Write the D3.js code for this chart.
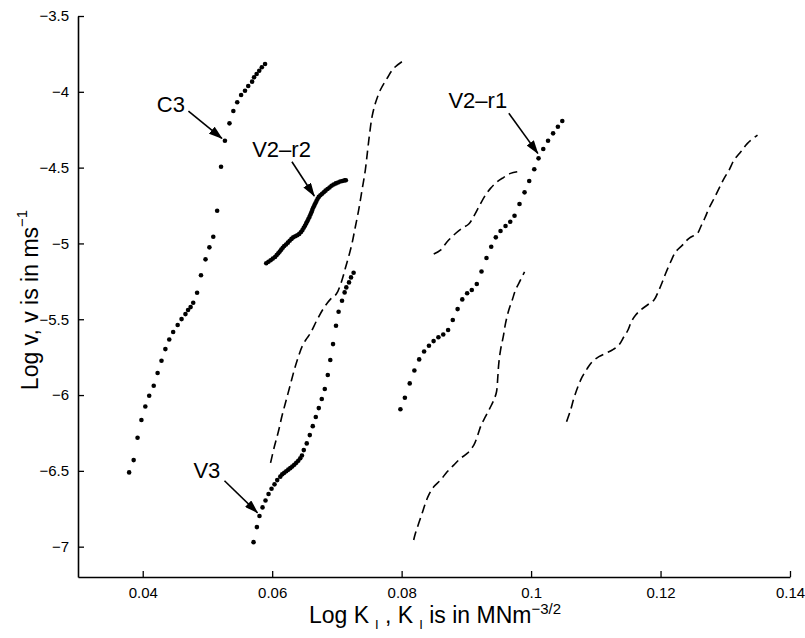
<!DOCTYPE html>
<html>
<head>
<meta charset="utf-8">
<script src="https://cdn.jsdelivr.net/npm/d3@7"></script>
<style>
  html, body { margin: 0; padding: 0; background: #fff; }
  svg text { font-family: "Liberation Sans", Arial, Helvetica, sans-serif; fill: #000; }
</style>
</head>
<body>
<svg id="chart" width="805" height="638"></svg>
<script>
// ---------------- DATA ----------------
const xTicks = [0.04, 0.06, 0.08, 0.10, 0.12, 0.14];
const xTickLabels = ["0.04", "0.06", "0.08", "0.1", "0.12", "0.14"];
const yTicks = [-7, -6.5, -6, -5.5, -5, -4.5, -4, -3.5];
const yTickLabels = ["\u22127", "\u22126.5", "\u22126", "\u22125.5", "\u22125", "\u22124.5", "\u22124", "\u22123.5"];

// dotted series (measured points)
const seriesC3 = [[0.0379,-6.510],[0.0386,-6.429],[0.0392,-6.282],[0.0398,-6.165],[0.0404,-6.075],[0.0410,-6.005],[0.0417,-5.939],[0.0423,-5.855],[0.0429,-5.774],[0.0435,-5.697],[0.0441,-5.634],[0.0447,-5.584],[0.0454,-5.538],[0.0460,-5.499],[0.0466,-5.466],[0.0470,-5.439],[0.0474,-5.420],[0.0478,-5.391],[0.0484,-5.325],[0.0490,-5.210],[0.0497,-5.105],[0.0503,-5.026],[0.0509,-4.956],[0.0515,-4.784],[0.0521,-4.494],[0.0527,-4.323],[0.0534,-4.208],[0.0540,-4.127],[0.0546,-4.069],[0.0552,-4.021],[0.0558,-3.993],[0.0563,-3.962],[0.0569,-3.933],[0.0572,-3.904],[0.0576,-3.883],[0.0580,-3.861],[0.0584,-3.838],[0.0589,-3.817]];

const seriesV3 = [[0.05712,-6.970],[0.05764,-6.871],[0.05804,-6.798],[0.05851,-6.741],[0.05897,-6.695],[0.05944,-6.653],[0.0599,-6.618],[0.06036,-6.589],[0.06078,-6.561],[0.06125,-6.538],[0.06155,-6.523],[0.06186,-6.513],[0.06217,-6.503],[0.06248,-6.492],[0.06279,-6.482],[0.0631,-6.471],[0.06341,-6.460],[0.06372,-6.447],[0.06403,-6.433],[0.06434,-6.417],[0.0646,-6.399],[0.06488,-6.363],[0.06534,-6.319],[0.06581,-6.264],[0.06627,-6.205],[0.06674,-6.145],[0.0672,-6.086],[0.06766,-6.026],[0.06813,-5.960],[0.06859,-5.868],[0.06898,-5.769],[0.0694,-5.664],[0.06986,-5.543],[0.07026,-5.451],[0.07079,-5.378],[0.07119,-5.323],[0.07145,-5.290],[0.07187,-5.257],[0.07218,-5.224],[0.07258,-5.193]];

const seriesV2r2 = [[0.05908,-5.131],[0.05942,-5.121],[0.05976,-5.111],[0.0601,-5.100],[0.06044,-5.089],[0.0607,-5.077],[0.06094,-5.065],[0.06117,-5.053],[0.0614,-5.041],[0.06163,-5.028],[0.06186,-5.017],[0.06214,-5.007],[0.06242,-4.995],[0.0627,-4.982],[0.06298,-4.970],[0.06326,-4.960],[0.06357,-4.953],[0.06387,-4.946],[0.06418,-4.937],[0.06446,-4.925],[0.06468,-4.912],[0.06488,-4.897],[0.06507,-4.883],[0.06525,-4.868],[0.06542,-4.854],[0.06559,-4.839],[0.06576,-4.825],[0.06592,-4.809],[0.06606,-4.794],[0.0662,-4.779],[0.06635,-4.763],[0.06651,-4.749],[0.06667,-4.735],[0.06684,-4.720],[0.06702,-4.706],[0.0672,-4.693],[0.06745,-4.682],[0.06771,-4.672],[0.06797,-4.662],[0.06824,-4.652],[0.06855,-4.641],[0.06886,-4.631],[0.06917,-4.620],[0.06949,-4.611],[0.06983,-4.604],[0.07017,-4.598],[0.07051,-4.592],[0.07085,-4.588],[0.07119,-4.584],[0.07138,-4.583]];

const seriesV2r1 = [[0.07981,-6.094],[0.0805,-6.018],[0.08125,-5.923],[0.08197,-5.838],[0.08271,-5.765],[0.08347,-5.713],[0.08422,-5.675],[0.08494,-5.644],[0.08568,-5.619],[0.08643,-5.601],[0.08718,-5.571],[0.0879,-5.505],[0.08865,-5.433],[0.08937,-5.369],[0.09012,-5.329],[0.09084,-5.307],[0.09161,-5.268],[0.09234,-5.185],[0.09311,-5.096],[0.09384,-5.022],[0.09455,-4.960],[0.09528,-4.918],[0.09605,-4.885],[0.09678,-4.857],[0.09744,-4.817],[0.09821,-4.740],[0.09899,-4.663],[0.09971,-4.588],[0.10049,-4.511],[0.10115,-4.439],[0.10188,-4.377],[0.10262,-4.323],[0.1034,-4.274],[0.10414,-4.230],[0.10482,-4.193]];

// dashed series
const dashA = [[0.05975,-6.447],[0.06032,-6.343],[0.06094,-6.244],[0.06155,-6.132],[0.06217,-6.033],[0.06279,-5.934],[0.06341,-5.835],[0.06403,-5.749],[0.06465,-5.677],[0.06527,-5.631],[0.06589,-5.593],[0.06692,-5.505],[0.06794,-5.428],[0.06898,-5.369],[0.06991,-5.334],[0.07053,-5.274],[0.07094,-5.220],[0.0713,-5.164],[0.07181,-5.088],[0.07234,-4.999],[0.07285,-4.890],[0.07336,-4.780],[0.07388,-4.648],[0.07439,-4.516],[0.07475,-4.384],[0.07506,-4.274],[0.07543,-4.164],[0.07594,-4.076],[0.07671,-3.988],[0.07775,-3.911],[0.07877,-3.845],[0.08058,-3.786]];

const dashB = [[0.08496,-5.070],[0.086,-5.044],[0.08703,-4.989],[0.08805,-4.945],[0.08935,-4.900],[0.09037,-4.872],[0.09125,-4.813],[0.09207,-4.747],[0.09295,-4.681],[0.09373,-4.637],[0.09476,-4.593],[0.09579,-4.564],[0.09682,-4.538],[0.09786,-4.527]];

const dashC = [[0.08186,-6.956],[0.08213,-6.912],[0.08264,-6.846],[0.08316,-6.780],[0.08367,-6.714],[0.08418,-6.660],[0.08496,-6.605],[0.086,-6.561],[0.08703,-6.506],[0.08805,-6.462],[0.08909,-6.418],[0.09012,-6.385],[0.09115,-6.330],[0.09176,-6.264],[0.09229,-6.198],[0.09295,-6.143],[0.09362,-6.088],[0.09424,-6.033],[0.09466,-5.978],[0.09486,-5.879],[0.09501,-5.791],[0.09528,-5.703],[0.0957,-5.615],[0.09605,-5.527],[0.09656,-5.439],[0.09709,-5.373],[0.0976,-5.307],[0.09837,-5.241],[0.09899,-5.187]];

const dashD = [[0.10548,-6.176],[0.1061,-6.099],[0.10661,-6.022],[0.10723,-5.945],[0.10791,-5.879],[0.10869,-5.824],[0.10946,-5.780],[0.11048,-5.747],[0.11152,-5.725],[0.11255,-5.703],[0.11357,-5.670],[0.11435,-5.615],[0.11497,-5.571],[0.11549,-5.516],[0.11616,-5.472],[0.11693,-5.439],[0.11797,-5.406],[0.11899,-5.373],[0.11976,-5.307],[0.12029,-5.253],[0.1208,-5.197],[0.12157,-5.121],[0.12235,-5.055],[0.12338,-5.011],[0.1244,-4.966],[0.1257,-4.933],[0.12621,-4.890],[0.12683,-4.834],[0.12749,-4.768],[0.12827,-4.703],[0.12904,-4.637],[0.12982,-4.571],[0.13059,-4.516],[0.13136,-4.450],[0.1324,-4.395],[0.13343,-4.340],[0.13498,-4.285]];

// annotations: label text, label anchor (x, y baseline), arrow start, arrow tip
const annLabels = ["C3", "V2\u2013r2", "V3", "V2\u2013r1"];
const annText = [[0.04217,-4.131],[0.05691,-4.428],[0.04783,-6.549],[0.08723,-4.107]];
const annFrom = [[0.04706,-4.127],[0.06305,-4.461],[0.05263,-6.565],[0.09656,-4.142]];
const annTo   = [[0.05223,-4.307],[0.0665,-4.687],[0.05773,-6.776],[0.10104,-4.406]];

// ---------------- CHART ----------------
const W = 805, H = 638;
const margin = {left: 78, right: 15, top: 16, bottom: 61};
const svg = d3.select("#chart");

const x = d3.scaleLinear().domain([0.03, 0.14]).range([margin.left, W - margin.right]);
const y = d3.scaleLinear().domain([-7.2, -3.5]).range([H - margin.bottom, margin.top]);

// axes
const xAxis = d3.axisBottom(x).tickValues(xTicks)
  .tickFormat((d, i) => xTickLabels[i]).tickSizeInner(-6).tickSizeOuter(0).tickPadding(10);
const yAxis = d3.axisLeft(y).tickValues(yTicks)
  .tickFormat((d, i) => yTickLabels[i]).tickSizeInner(-6).tickSizeOuter(0).tickPadding(9);

const gx = svg.append("g").attr("transform", `translate(0,${H - margin.bottom})`).call(xAxis);
const gy = svg.append("g").attr("transform", `translate(${margin.left},0)`).call(yAxis);
[gx, gy].forEach(g => {
  g.select(".domain").attr("stroke", "#000").attr("stroke-width", 1.6);
  g.selectAll(".tick line").attr("stroke", "#000").attr("stroke-width", 1.3);
  g.selectAll(".tick text").attr("font-size", 15).attr("font-family", "Liberation Sans, Arial, sans-serif").attr("fill", "#000");
});

// dashed curves
const line = d3.line().x(d => x(d[0])).y(d => y(d[1])).curve(d3.curveCatmullRom.alpha(0.5));
[dashA, dashB, dashC, dashD].forEach(s => {
  svg.append("path").datum(s).attr("d", line)
    .attr("fill", "none").attr("stroke", "#000").attr("stroke-width", 1.6)
    .attr("stroke-dasharray", "9,5");
});

// dotted series
[seriesC3, seriesV3, seriesV2r2, seriesV2r1].forEach(s => {
  svg.append("g").selectAll("circle").data(s).join("circle")
    .attr("cx", d => x(d[0])).attr("cy", d => y(d[1])).attr("r", 2.3).attr("fill", "#000");
});

// arrowhead marker
svg.append("defs").append("marker")
  .attr("id", "arr").attr("viewBox", "0 0 14 9").attr("refX", 13).attr("refY", 4.5)
  .attr("markerWidth", 14).attr("markerHeight", 9).attr("markerUnits", "userSpaceOnUse")
  .attr("orient", "auto")
  .append("path").attr("d", "M0,0 L14,4.5 L0,9 Z").attr("fill", "#000");

annLabels.forEach((t, i) => {
  svg.append("line")
    .attr("x1", x(annFrom[i][0])).attr("y1", y(annFrom[i][1]))
    .attr("x2", x(annTo[i][0])).attr("y2", y(annTo[i][1]))
    .attr("stroke", "#000").attr("stroke-width", 1.6).attr("marker-end", "url(#arr)");
  svg.append("text").attr("x", x(annText[i][0])).attr("y", y(annText[i][1]))
    .attr("font-size", 22).text(t);
});

// axis titles
const xt = svg.append("text").attr("x", (margin.left + W - margin.right) / 2 + 1).attr("y", 623)
  .attr("text-anchor", "middle").attr("font-size", 23);
xt.append("tspan").text("Log K");
xt.append("tspan").attr("font-size", 13).attr("dx", 6).attr("dy", 6).text("I");
xt.append("tspan").attr("dy", -6).text(" , K");
xt.append("tspan").attr("font-size", 13).attr("dx", 6).attr("dy", 6).text("I");
xt.append("tspan").attr("dy", -6).text(" is in MNm");
xt.append("tspan").attr("font-size", 15).attr("dy", -9.5).text("\u22123/2");

const yt = svg.append("text")
  .attr("transform", `translate(38,300) rotate(-90)`)
  .attr("text-anchor", "middle").attr("font-size", 23);
yt.append("tspan").text("Log v, v is in ms");
yt.append("tspan").attr("font-size", 15).attr("dy", -11).text("\u22121");
</script>
</body>
</html>
